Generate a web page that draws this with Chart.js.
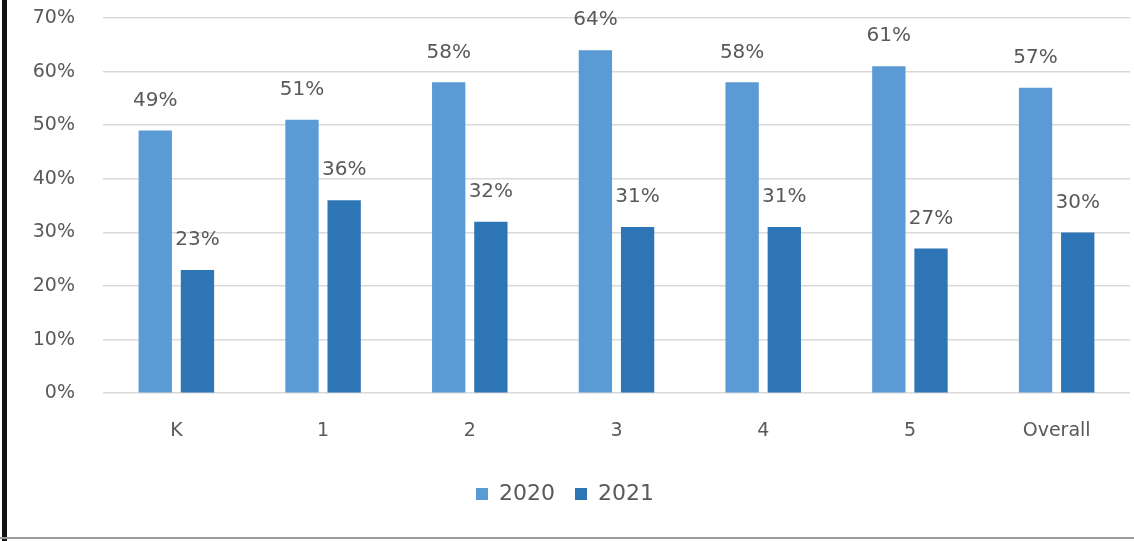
<!DOCTYPE html>
<html>
<head>
<meta charset="utf-8">
<script src="https://cdn.jsdelivr.net/npm/chart.js@4"></script>
<style>
  html, body { margin: 0; padding: 0; background: #fff; }
  #wrap { position: relative; width: 1134px; height: 541px; }
  #leftBorder { position: absolute; left: 2px; top: 0; width: 5px; height: 541px; background: #111; }
  #bottomBorder { position: absolute; left: 0; top: 537px; width: 1134px; height: 2px; background: #9a9a9a; }
</style>
</head>
<body>
<div id="wrap">
  <canvas id="chart" width="1134" height="541"></canvas>
  <div id="leftBorder"></div>
  <div id="bottomBorder"></div>
</div>
<script>
const grades = ["K", "1", "2", "3", "4", "5", "Overall"];
const values2020 = [49, 51, 58, 64, 58, 61, 57];
const values2021 = [23, 36, 32, 31, 31, 27, 30];
const yTicks = [0, 10, 20, 30, 40, 50, 60, 70];

const FONT = "'DejaVu Sans', sans-serif";
const TEXT = "#595959";

// draw the value above each bar
const barLabels = {
  id: "barLabels",
  afterDatasetsDraw(chart) {
    const ctx = chart.ctx;
    ctx.save();
    ctx.font = "20px " + FONT;
    ctx.fillStyle = TEXT;
    ctx.textAlign = "center";
    ctx.textBaseline = "middle";
    chart.data.datasets.forEach((ds, i) => {
      chart.getDatasetMeta(i).data.forEach((bar, j) => {
        ctx.fillText(ds.data[j] + "%", bar.x, bar.y - 30);
      });
    });
    ctx.restore();
  },
};

new Chart(document.querySelector("#chart"), {
  type: "bar",
  data: {
    labels: grades,
    datasets: [
      { label: "2020", data: values2020, backgroundColor: "#5B9BD5" },
      { label: "2021", data: values2021, backgroundColor: "#2E75B6" },
    ],
  },
  options: {
    responsive: false,
    animation: false,
    layout: { padding: { top: 0, right: 4, bottom: 26, left: 0 } },
    datasets: { bar: { categoryPercentage: 0.575, barPercentage: 0.79 } },
    scales: {
      x: {
        grid: { display: false },
        border: { display: false },
        afterFit: (scale) => { scale.height += 3; },
        ticks: { color: TEXT, font: { family: FONT, size: 19 }, padding: 18 },
      },
      y: {
        min: 0,
        max: 70,
        afterFit: (scale) => {
          scale.width = 103;
          scale.paddingTop = 18;
          scale.paddingBottom = 10;
        },
        afterBuildTicks: (scale) => { scale.ticks = yTicks.map((v) => ({ value: v })); },
        grid: { color: "#d9d9d9", lineWidth: 1.5, drawTicks: false },
        border: { display: false },
        ticks: {
          color: TEXT,
          font: { family: FONT, size: 19 },
          padding: 28,
          callback: (v) => v + "%",
        },
      },
    },
    plugins: {
      legend: {
        position: "bottom",
        labels: {
          color: TEXT,
          font: { family: FONT, size: 22 },
          boxWidth: 12,
          boxHeight: 12,
          padding: 20,
        },
      },
      tooltip: { enabled: false },
    },
  },
  plugins: [barLabels],
});
</script>
</body>
</html>
